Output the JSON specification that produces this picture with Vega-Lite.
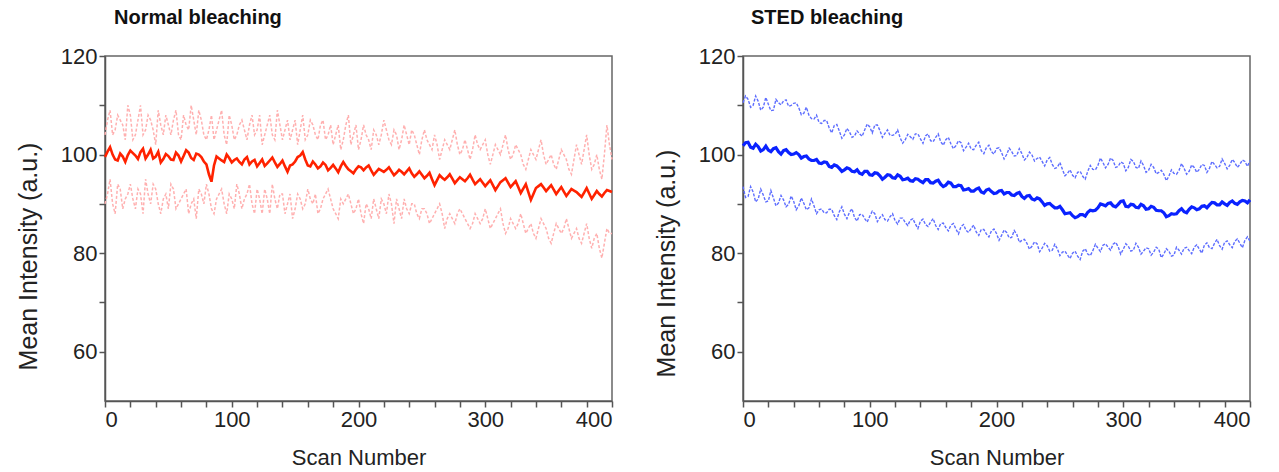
{
"$schema": "https://vega.github.io/schema/vega-lite/v6.json",
"padding": {"left": 15, "top": 7, "right": 0, "bottom": 0},
"spacing": 35,
"config": {
  "view": {"stroke": "#666", "strokeWidth": 1.5},
  "axis": {"domainColor": "#555", "tickColor": "#555", "domainWidth": 1.5, "tickWidth": 1.5, "tickSize": 6, "grid": false,
    "labelFont": "Liberation Sans", "titleFont": "Liberation Sans", "labelFontSize": 22, "titleFontSize": 22,
    "labelColor": "#222", "titleColor": "#222", "titleFontWeight": "normal", "labelOverlap": false},
  "title": {"font": "Liberation Sans", "fontSize": 20, "fontWeight": "bold", "color": "#111", "anchor": "start", "frame": "group", "offset": 17}
},
"data": {"values": [
{"x":0,"nm":99.5,"nh":104,"nl":90,"sm":101.8,"sh":110.5,"sl":93.5},
{"x":4,"nm":101.5,"nh":109,"nl":95,"sm":102.5,"sh":111.2,"sl":91.5},
{"x":8,"nm":99.0,"nh":105,"nl":88,"sm":101.3,"sh":110.0,"sl":92.4},
{"x":12,"nm":100.2,"nh":107,"nl":93,"sm":101.6,"sh":110.8,"sl":91.0},
{"x":16,"nm":98.5,"nh":103,"nl":91,"sm":101.0,"sh":109.6,"sl":91.8},
{"x":20,"nm":100.8,"nh":108,"nl":94,"sm":100.9,"sh":110.2,"sl":90.6},
{"x":24,"nm":99.8,"nh":104,"nl":89,"sm":101.2,"sh":109.0,"sl":91.2},
{"x":28,"nm":100.5,"nh":110,"nl":92,"sm":100.6,"sh":110.5,"sl":90.2},
{"x":32,"nm":99.2,"nh":105,"nl":95,"sm":100.8,"sh":110.9,"sl":90.8},
{"x":36,"nm":101.0,"nh":107,"nl":90,"sm":100.4,"sh":109.8,"sl":89.9},
{"x":40,"nm":99.6,"nh":102,"nl":93,"sm":100.1,"sh":110.4,"sl":90.5},
{"x":44,"nm":98.4,"nh":106,"nl":88,"sm":100.0,"sh":109.5,"sl":89.6},
{"x":48,"nm":100.1,"nh":108,"nl":92,"sm":99.6,"sh":108.4,"sl":90.1},
{"x":52,"nm":99.0,"nh":104,"nl":94,"sm":99.1,"sh":108.0,"sl":89.2},
{"x":56,"nm":100.4,"nh":109,"nl":89,"sm":98.8,"sh":107.2,"sl":89.6},
{"x":60,"nm":98.6,"nh":103,"nl":91,"sm":98.3,"sh":106.5,"sl":88.8},
{"x":64,"nm":100.9,"nh":106,"nl":93,"sm":98.5,"sh":106.9,"sl":88.2},
{"x":68,"nm":99.3,"nh":110,"nl":90,"sm":97.6,"sh":105.4,"sl":88.9},
{"x":72,"nm":100.2,"nh":104,"nl":87,"sm":97.9,"sh":105.9,"sl":87.6},
{"x":76,"nm":99.5,"nh":107,"nl":92,"sm":97.2,"sh":104.8,"sl":88.4},
{"x":80,"nm":98.0,"nh":103,"nl":94,"sm":96.9,"sh":104.0,"sl":87.9},
{"x":84,"nm":94.5,"nh":108,"nl":89,"sm":97.1,"sh":104.6,"sl":88.3},
{"x":88,"nm":99.6,"nh":105,"nl":91,"sm":96.5,"sh":103.8,"sl":87.2},
{"x":92,"nm":98.8,"nh":109,"nl":93,"sm":96.2,"sh":104.2,"sl":87.8},
{"x":96,"nm":100.0,"nh":102,"nl":88,"sm":96.6,"sh":105.0,"sl":87.0},
{"x":100,"nm":98.4,"nh":106,"nl":91,"sm":95.9,"sh":105.6,"sl":87.5},
{"x":104,"nm":99.2,"nh":104,"nl":94,"sm":96.3,"sh":106.0,"sl":88.0},
{"x":108,"nm":98.0,"nh":107,"nl":89,"sm":95.7,"sh":104.9,"sl":87.2},
{"x":112,"nm":99.5,"nh":103,"nl":92,"sm":95.4,"sh":104.3,"sl":86.8},
{"x":116,"nm":98.6,"nh":108,"nl":90,"sm":95.8,"sh":103.9,"sl":87.4},
{"x":120,"nm":97.6,"nh":105,"nl":93,"sm":95.2,"sh":104.1,"sl":86.6},
{"x":124,"nm":99.0,"nh":102,"nl":88,"sm":95.6,"sh":103.4,"sl":87.1},
{"x":128,"nm":98.2,"nh":106,"nl":91,"sm":95.0,"sh":103.0,"sl":86.2},
{"x":132,"nm":99.4,"nh":104,"nl":94,"sm":94.7,"sh":103.6,"sl":86.7},
{"x":136,"nm":97.5,"nh":109,"nl":89,"sm":95.1,"sh":104.2,"sl":85.9},
{"x":140,"nm":98.8,"nh":103,"nl":92,"sm":94.6,"sh":103.2,"sl":86.5},
{"x":144,"nm":96.5,"nh":107,"nl":90,"sm":94.9,"sh":103.8,"sl":85.8},
{"x":148,"nm":98.0,"nh":105,"nl":87,"sm":94.3,"sh":102.8,"sl":86.3},
{"x":152,"nm":99.5,"nh":102,"nl":92,"sm":94.6,"sh":103.5,"sl":85.6},
{"x":156,"nm":100.5,"nh":108,"nl":89,"sm":94.0,"sh":102.6,"sl":86.0},
{"x":160,"nm":97.8,"nh":104,"nl":93,"sm":93.8,"sh":103.0,"sl":85.2},
{"x":164,"nm":98.6,"nh":106,"nl":90,"sm":94.2,"sh":102.2,"sl":85.7},
{"x":168,"nm":97.2,"nh":103,"nl":88,"sm":93.5,"sh":101.8,"sl":84.9},
{"x":172,"nm":98.4,"nh":107,"nl":91,"sm":93.7,"sh":102.4,"sl":85.4},
{"x":176,"nm":96.8,"nh":104,"nl":93,"sm":92.9,"sh":101.5,"sl":84.6},
{"x":180,"nm":97.9,"nh":102,"nl":89,"sm":92.6,"sh":101.1,"sl":85.0},
{"x":184,"nm":96.4,"nh":106,"nl":87,"sm":93.0,"sh":101.9,"sl":84.3},
{"x":188,"nm":98.5,"nh":103,"nl":90,"sm":92.4,"sh":100.8,"sl":84.8},
{"x":192,"nm":97.0,"nh":108,"nl":92,"sm":92.8,"sh":101.4,"sl":83.9},
{"x":196,"nm":96.2,"nh":104,"nl":88,"sm":92.5,"sh":100.6,"sl":84.5},
{"x":200,"nm":97.6,"nh":101,"nl":91,"sm":92.2,"sh":101.2,"sl":84.0},
{"x":204,"nm":96.8,"nh":106,"nl":86,"sm":92.7,"sh":100.4,"sl":83.6},
{"x":208,"nm":97.8,"nh":103,"nl":89,"sm":92.3,"sh":100.0,"sl":84.2},
{"x":212,"nm":95.9,"nh":105,"nl":91,"sm":91.8,"sh":100.6,"sl":83.2},
{"x":216,"nm":97.1,"nh":102,"nl":87,"sm":92.1,"sh":99.8,"sl":83.8},
{"x":220,"nm":96.5,"nh":107,"nl":90,"sm":91.5,"sh":100.2,"sl":82.6},
{"x":224,"nm":97.4,"nh":103,"nl":92,"sm":91.6,"sh":99.4,"sl":82.0},
{"x":228,"nm":95.8,"nh":105,"nl":86,"sm":91.0,"sh":99.9,"sl":81.4},
{"x":232,"nm":96.9,"nh":101,"nl":89,"sm":91.2,"sh":99.2,"sl":81.9},
{"x":236,"nm":96.0,"nh":106,"nl":91,"sm":90.4,"sh":98.6,"sl":81.0},
{"x":240,"nm":97.2,"nh":102,"nl":88,"sm":90.0,"sh":98.9,"sl":81.5},
{"x":244,"nm":95.5,"nh":104,"nl":90,"sm":89.6,"sh":98.0,"sl":80.6},
{"x":248,"nm":96.6,"nh":100,"nl":87,"sm":89.2,"sh":97.4,"sl":80.9},
{"x":252,"nm":95.2,"nh":105,"nl":89,"sm":88.8,"sh":97.0,"sl":80.2},
{"x":256,"nm":96.3,"nh":102,"nl":86,"sm":88.1,"sh":96.2,"sl":79.6},
{"x":260,"nm":93.8,"nh":104,"nl":88,"sm":87.6,"sh":95.8,"sl":80.0},
{"x":264,"nm":95.8,"nh":99,"nl":90,"sm":87.4,"sh":96.4,"sl":79.4},
{"x":268,"nm":94.9,"nh":103,"nl":85,"sm":87.8,"sh":95.6,"sl":80.4},
{"x":272,"nm":96.0,"nh":101,"nl":88,"sm":88.3,"sh":96.6,"sl":79.8},
{"x":276,"nm":94.2,"nh":105,"nl":86,"sm":88.6,"sh":97.0,"sl":80.5},
{"x":280,"nm":95.4,"nh":100,"nl":89,"sm":89.2,"sh":97.8,"sl":81.0},
{"x":284,"nm":94.6,"nh":103,"nl":87,"sm":89.8,"sh":98.4,"sl":81.6},
{"x":288,"nm":95.9,"nh":99,"nl":85,"sm":90.1,"sh":98.0,"sl":81.2},
{"x":292,"nm":94.0,"nh":104,"nl":88,"sm":89.6,"sh":98.8,"sl":81.8},
{"x":296,"nm":95.0,"nh":101,"nl":86,"sm":89.9,"sh":97.6,"sl":81.3},
{"x":300,"nm":93.6,"nh":103,"nl":89,"sm":90.6,"sh":98.2,"sl":80.8},
{"x":304,"nm":94.8,"nh":98,"nl":85,"sm":89.4,"sh":97.4,"sl":81.4},
{"x":308,"nm":92.8,"nh":102,"nl":87,"sm":89.8,"sh":98.6,"sl":80.6},
{"x":312,"nm":94.4,"nh":100,"nl":89,"sm":89.2,"sh":97.2,"sl":81.2},
{"x":316,"nm":95.2,"nh":104,"nl":84,"sm":89.6,"sh":97.8,"sl":80.4},
{"x":320,"nm":93.4,"nh":99,"nl":87,"sm":89.0,"sh":96.8,"sl":80.9},
{"x":324,"nm":94.6,"nh":102,"nl":85,"sm":89.3,"sh":97.4,"sl":80.2},
{"x":328,"nm":92.2,"nh":100,"nl":88,"sm":88.6,"sh":96.4,"sl":80.8},
{"x":332,"nm":94.0,"nh":97,"nl":84,"sm":88.2,"sh":96.0,"sl":79.8},
{"x":336,"nm":90.8,"nh":101,"nl":86,"sm":87.6,"sh":95.6,"sl":80.4},
{"x":340,"nm":93.2,"nh":99,"nl":83,"sm":87.9,"sh":96.2,"sl":79.6},
{"x":344,"nm":94.0,"nh":103,"nl":87,"sm":88.6,"sh":96.8,"sl":80.6},
{"x":348,"nm":92.6,"nh":98,"nl":85,"sm":88.4,"sh":97.2,"sl":81.0},
{"x":352,"nm":93.8,"nh":100,"nl":82,"sm":88.9,"sh":96.6,"sl":80.5},
{"x":356,"nm":92.0,"nh":97,"nl":86,"sm":89.2,"sh":97.4,"sl":81.2},
{"x":360,"nm":93.4,"nh":101,"nl":84,"sm":89.0,"sh":97.0,"sl":80.8},
{"x":364,"nm":91.6,"nh":99,"nl":87,"sm":89.6,"sh":97.8,"sl":81.6},
{"x":368,"nm":93.0,"nh":96,"nl":83,"sm":89.8,"sh":97.2,"sl":81.1},
{"x":372,"nm":92.4,"nh":102,"nl":85,"sm":90.2,"sh":98.0,"sl":82.0},
{"x":376,"nm":91.4,"nh":98,"nl":82,"sm":89.8,"sh":97.6,"sl":81.5},
{"x":380,"nm":93.2,"nh":104,"nl":86,"sm":90.0,"sh":98.2,"sl":82.2},
{"x":384,"nm":91.0,"nh":97,"nl":81,"sm":90.3,"sh":97.8,"sl":81.7},
{"x":388,"nm":92.6,"nh":100,"nl":84,"sm":90.1,"sh":98.4,"sl":82.4},
{"x":392,"nm":91.5,"nh":95,"nl":79,"sm":90.4,"sh":98.0,"sl":82.0},
{"x":396,"nm":92.8,"nh":106,"nl":85,"sm":90.6,"sh":98.6,"sl":82.6},
{"x":400,"nm":92.4,"nh":99,"nl":84,"sm":90.8,"sh":98.8,"sl":82.4},
{"x":2,"nm":100.6,"nh":107,"nl":92,"sm":102.4,"sh":111.9,"sl":91.3},
{"x":6,"nm":100.0,"nh":104,"nl":90,"sm":101.5,"sh":109.6,"sl":93.5},
{"x":10,"nm":98.8,"nh":108,"nl":94,"sm":102.1,"sh":111.9,"sl":90.4},
{"x":14,"nm":99.6,"nh":106,"nl":89,"sm":100.7,"sh":109.0,"sl":93.0},
{"x":18,"nm":99.9,"nh":110,"nl":92,"sm":101.7,"sh":111.6,"sl":90.4},
{"x":22,"nm":100.3,"nh":103,"nl":91,"sm":100.6,"sh":108.9,"sl":92.7},
{"x":26,"nm":99.1,"nh":107,"nl":93,"sm":101.4,"sh":111.2,"sl":89.6},
{"x":30,"nm":101.2,"nh":104,"nl":88,"sm":100.1,"sh":110.1,"sl":91.7},
{"x":34,"nm":100.0,"nh":108,"nl":92,"sm":101.0,"sh":111.1,"sl":89.4},
{"x":38,"nm":99.2,"nh":105,"nl":94,"sm":100.0,"sh":110.0,"sl":91.6},
{"x":42,"nm":100.6,"nh":109,"nl":90,"sm":100.4,"sh":110.5,"sl":88.8},
{"x":46,"nm":99.1,"nh":104,"nl":91,"sm":99.3,"sh":108.1,"sl":91.2},
{"x":50,"nm":99.7,"nh":106,"nl":89,"sm":99.7,"sh":109.6,"sl":88.8},
{"x":54,"nm":98.9,"nh":107,"nl":93,"sm":98.8,"sh":107.3,"sl":91.0},
{"x":58,"nm":99.8,"nh":104,"nl":90,"sm":99.0,"sh":108.0,"sl":88.0},
{"x":62,"nm":99.7,"nh":108,"nl":92,"sm":98.2,"sh":106.3,"sl":89.0},
{"x":66,"nm":100.4,"nh":105,"nl":88,"sm":98.4,"sh":106.9,"sl":88.2},
{"x":70,"nm":98.9,"nh":107,"nl":91,"sm":97.4,"sh":104.4,"sl":88.9},
{"x":74,"nm":100.0,"nh":109,"nl":93,"sm":97.7,"sh":106.1,"sl":86.8},
{"x":78,"nm":98.6,"nh":104,"nl":90,"sm":96.6,"sh":103.3,"sl":89.4},
{"x":82,"nm":96.0,"nh":105,"nl":92,"sm":97.3,"sh":105.3,"sl":87.0},
{"x":86,"nm":97.8,"nh":103,"nl":88,"sm":96.6,"sh":103.5,"sl":89.0},
{"x":90,"nm":99.2,"nh":107,"nl":92,"sm":96.9,"sh":104.8,"sl":86.5},
{"x":94,"nm":98.5,"nh":104,"nl":90,"sm":96.0,"sh":103.7,"sl":87.9},
{"x":98,"nm":99.3,"nh":108,"nl":92,"sm":96.6,"sh":106.2,"sl":86.3},
{"x":102,"nm":98.9,"nh":103,"nl":89,"sm":95.8,"sh":104.4,"sl":88.5},
{"x":106,"nm":98.5,"nh":106,"nl":92,"sm":96.2,"sh":106.0,"sl":86.4},
{"x":110,"nm":99.0,"nh":105,"nl":91,"sm":95.0,"sh":103.5,"sl":87.8},
{"x":114,"nm":98.0,"nh":106,"nl":94,"sm":95.9,"sh":105.0,"sl":86.5},
{"x":118,"nm":98.9,"nh":104,"nl":88,"sm":95.3,"sh":103.9,"sl":88.0},
{"x":122,"nm":98.3,"nh":108,"nl":91,"sm":95.9,"sh":105.0,"sl":85.9},
{"x":126,"nm":97.7,"nh":104,"nl":93,"sm":94.9,"sh":102.3,"sl":87.1},
{"x":130,"nm":98.8,"nh":108,"nl":88,"sm":95.2,"sh":104.1,"sl":85.6},
{"x":134,"nm":98.4,"nh":103,"nl":91,"sm":94.6,"sh":103.1,"sl":87.0},
{"x":138,"nm":98.1,"nh":106,"nl":92,"sm":95.0,"sh":104.2,"sl":85.0},
{"x":142,"nm":97.6,"nh":105,"nl":88,"sm":94.3,"sh":102.3,"sl":86.9},
{"x":146,"nm":97.8,"nh":103,"nl":92,"sm":94.9,"sh":104.2,"sl":85.4},
{"x":150,"nm":98.6,"nh":107,"nl":89,"sm":94.2,"sh":102.6,"sl":87.0},
{"x":154,"nm":99.8,"nh":105,"nl":91,"sm":94.8,"sh":104.2,"sl":84.8},
{"x":158,"nm":99.0,"nh":103,"nl":90,"sm":93.5,"sh":101.9,"sl":86.1},
{"x":162,"nm":97.6,"nh":107,"nl":91,"sm":94.4,"sh":103.5,"sl":84.5},
{"x":166,"nm":98.0,"nh":104,"nl":92,"sm":93.5,"sh":101.2,"sl":86.0},
{"x":170,"nm":97.6,"nh":106,"nl":89,"sm":93.8,"sh":102.8,"sl":83.9},
{"x":174,"nm":97.9,"nh":103,"nl":92,"sm":92.8,"sh":100.8,"sl":85.8},
{"x":178,"nm":97.3,"nh":106,"nl":91,"sm":93.1,"sh":102.3,"sl":84.2},
{"x":182,"nm":97.2,"nh":104,"nl":88,"sm":92.6,"sh":101.0,"sl":85.7},
{"x":186,"nm":97.6,"nh":101,"nl":91,"sm":93.2,"sh":102.5,"sl":83.6},
{"x":190,"nm":97.7,"nh":106,"nl":91,"sm":92.2,"sh":100.2,"sl":84.8},
{"x":194,"nm":96.6,"nh":102,"nl":90,"sm":93.0,"sh":101.9,"sl":83.3},
{"x":198,"nm":97.0,"nh":106,"nl":89,"sm":92.1,"sh":100.1,"sl":84.9},
{"x":202,"nm":97.4,"nh":103,"nl":88,"sm":92.6,"sh":101.4,"sl":82.6},
{"x":206,"nm":97.4,"nh":104,"nl":90,"sm":92.0,"sh":99.1,"sl":84.7},
{"x":210,"nm":96.8,"nh":101,"nl":87,"sm":92.3,"sh":101.3,"sl":83.1},
{"x":214,"nm":96.5,"nh":104,"nl":89,"sm":91.7,"sh":99.7,"sl":84.6},
{"x":218,"nm":96.8,"nh":104,"nl":91,"sm":92.3,"sh":101.2,"sl":82.2},
{"x":222,"nm":96.9,"nh":105,"nl":88,"sm":91.1,"sh":98.9,"sl":82.8},
{"x":226,"nm":96.6,"nh":102,"nl":90,"sm":91.7,"sh":100.5,"sl":80.8},
{"x":230,"nm":96.3,"nh":104,"nl":91,"sm":90.8,"sh":98.7,"sl":82.3},
{"x":234,"nm":96.5,"nh":103,"nl":87,"sm":91.0,"sh":99.5,"sl":80.3},
{"x":238,"nm":96.6,"nh":104,"nl":89,"sm":89.7,"sh":97.7,"sl":82.0},
{"x":242,"nm":96.2,"nh":105,"nl":90,"sm":90.1,"sh":99.4,"sl":80.4},
{"x":246,"nm":96.0,"nh":102,"nl":88,"sm":89.2,"sh":97.2,"sl":81.8},
{"x":250,"nm":95.9,"nh":103,"nl":89,"sm":89.5,"sh":98.4,"sl":79.5},
{"x":254,"nm":95.7,"nh":103,"nl":88,"sm":88.0,"sh":95.7,"sl":80.4},
{"x":258,"nm":95.0,"nh":101,"nl":87,"sm":88.2,"sh":96.9,"sl":78.9},
{"x":262,"nm":94.8,"nh":102,"nl":89,"sm":87.2,"sh":95.3,"sl":80.4},
{"x":266,"nm":95.3,"nh":101,"nl":88,"sm":87.8,"sh":96.6,"sl":78.7},
{"x":270,"nm":95.4,"nh":102,"nl":87,"sm":87.5,"sh":95.0,"sl":80.9},
{"x":274,"nm":95.1,"nh":103,"nl":87,"sm":88.7,"sh":97.8,"sl":79.5},
{"x":278,"nm":94.8,"nh":102,"nl":88,"sm":88.7,"sh":96.9,"sl":81.8},
{"x":282,"nm":95.0,"nh":101,"nl":88,"sm":90.0,"sh":99.3,"sl":80.3},
{"x":286,"nm":95.2,"nh":101,"nl":86,"sm":89.6,"sh":97.3,"sl":81.9},
{"x":290,"nm":94.9,"nh":101,"nl":86,"sm":90.2,"sh":99.3,"sl":80.6},
{"x":294,"nm":94.5,"nh":102,"nl":87,"sm":89.4,"sh":97.4,"sl":82.2},
{"x":298,"nm":94.3,"nh":102,"nl":87,"sm":90.5,"sh":98.5,"sl":79.8},
{"x":302,"nm":94.2,"nh":100,"nl":87,"sm":89.5,"sh":96.7,"sl":81.9},
{"x":306,"nm":93.8,"nh":100,"nl":86,"sm":89.9,"sh":99.0,"sl":80.4},
{"x":310,"nm":93.6,"nh":101,"nl":88,"sm":89.3,"sh":97.4,"sl":82.0},
{"x":314,"nm":94.8,"nh":102,"nl":86,"sm":89.9,"sh":98.7,"sl":79.8},
{"x":318,"nm":94.3,"nh":101,"nl":85,"sm":88.9,"sh":96.4,"sl":81.1},
{"x":322,"nm":94.0,"nh":100,"nl":86,"sm":89.5,"sh":98.0,"sl":79.6},
{"x":326,"nm":93.4,"nh":101,"nl":86,"sm":88.7,"sh":96.1,"sl":81.2},
{"x":330,"nm":93.1,"nh":98,"nl":86,"sm":88.6,"sh":96.8,"sl":79.1},
{"x":334,"nm":92.4,"nh":99,"nl":85,"sm":87.4,"sh":94.7,"sl":80.9},
{"x":338,"nm":92.0,"nh":100,"nl":84,"sm":88.0,"sh":96.9,"sl":79.4},
{"x":342,"nm":93.6,"nh":101,"nl":85,"sm":88.0,"sh":96.0,"sl":81.2},
{"x":346,"nm":93.3,"nh":100,"nl":86,"sm":89.0,"sh":98.2,"sl":79.8},
{"x":350,"nm":93.2,"nh":99,"nl":83,"sm":88.2,"sh":96.0,"sl":81.2},
{"x":354,"nm":92.9,"nh":98,"nl":84,"sm":89.4,"sh":97.9,"sl":79.9},
{"x":358,"nm":92.7,"nh":99,"nl":85,"sm":88.8,"sh":96.4,"sl":81.7},
{"x":362,"nm":92.5,"nh":100,"nl":85,"sm":89.5,"sh":98.0,"sl":80.0},
{"x":366,"nm":92.3,"nh":97,"nl":85,"sm":89.2,"sh":96.4,"sl":82.1},
{"x":370,"nm":92.7,"nh":99,"nl":84,"sm":90.3,"sh":98.6,"sl":80.9},
{"x":374,"nm":91.9,"nh":100,"nl":83,"sm":89.8,"sh":97.3,"sl":82.8},
{"x":378,"nm":92.3,"nh":101,"nl":84,"sm":90.4,"sh":99.1,"sl":80.8},
{"x":382,"nm":92.1,"nh":100,"nl":83,"sm":89.7,"sh":97.1,"sl":82.5},
{"x":386,"nm":91.8,"nh":98,"nl":83,"sm":90.6,"sh":99.0,"sl":81.1},
{"x":390,"nm":92.0,"nh":97,"nl":81,"sm":89.9,"sh":97.4,"sl":82.9},
{"x":394,"nm":92.2,"nh":100,"nl":82,"sm":90.7,"sh":98.9,"sl":81.1},
{"x":398,"nm":92.6,"nh":102,"nl":84,"sm":90.2,"sh":97.6,"sl":83.3}
]},
"hconcat": [
{
  "title": {"text": "Normal bleaching", "dx": 9},
  "width": 507, "height": 345,
  "encoding": {
    "x": {"field": "x", "type": "quantitative", "scale": {"domain": [0, 400], "nice": false}, "title": "Scan Number",
      "axis": {"values": [0,20,40,60,80,100,120,140,160,180,200,220,240,260,280,300,320,340,360,380,400], "labelExpr": "datum.value % 100 === 0 ? datum.label : ''", "labelPadding": 2, "titlePadding": 17}}
  },
  "layer": [
    {"mark": {"type": "line", "color": "#ffb0b0", "strokeWidth": 1.5, "strokeDash": [3, 2]},
     "encoding": {"y": {"field": "nh", "type": "quantitative", "scale": {"domain": [50, 120], "nice": false}, "title": "Mean Intensity (a.u.)",
       "axis": {"values": [60,70,80,90,100,110,120], "labelExpr": "datum.value % 20 === 0 ? datum.label : ''", "labelPadding": 2, "titlePadding": 19, "titleFontSize": 25, "titleY": 200}}}},
    {"mark": {"type": "line", "color": "#ffb0b0", "strokeWidth": 1.5, "strokeDash": [3, 2]},
     "encoding": {"y": {"field": "nl", "type": "quantitative"}}},
    {"mark": {"type": "line", "color": "#ff2200", "strokeWidth": 2.6},
     "encoding": {"y": {"field": "nm", "type": "quantitative"}}}
  ]
},
{
  "title": {"text": "STED bleaching", "dx": 8},
  "width": 507, "height": 345,
  "encoding": {
    "x": {"field": "x", "type": "quantitative", "scale": {"domain": [0, 400], "nice": false}, "title": "Scan Number",
      "axis": {"values": [0,20,40,60,80,100,120,140,160,180,200,220,240,260,280,300,320,340,360,380,400], "labelExpr": "datum.value % 100 === 0 ? datum.label : ''", "labelPadding": 2, "titlePadding": 17}}
  },
  "layer": [
    {"mark": {"type": "line", "color": "#5e6eff", "strokeWidth": 1.4, "strokeDash": [3, 1.5]},
     "encoding": {"y": {"field": "sh", "type": "quantitative", "scale": {"domain": [50, 120], "nice": false}, "title": "Mean Intensity (a.u.)",
       "axis": {"values": [60,70,80,90,100,110,120], "labelExpr": "datum.value % 20 === 0 ? datum.label : ''", "labelPadding": 2, "titlePadding": 19, "titleFontSize": 25, "titleY": 207}}}},
    {"mark": {"type": "line", "color": "#5e6eff", "strokeWidth": 1.4, "strokeDash": [3, 1.5]},
     "encoding": {"y": {"field": "sl", "type": "quantitative"}}},
    {"mark": {"type": "line", "color": "#0a22ff", "strokeWidth": 3.2},
     "encoding": {"y": {"field": "sm", "type": "quantitative"}}}
  ]
}
]
}
